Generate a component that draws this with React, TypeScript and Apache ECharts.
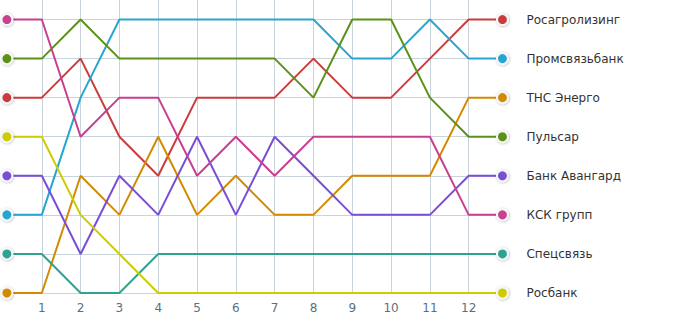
import React, { useEffect, useRef } from "react";
import * as echarts from "echarts";

const names = [
  "Росагролизинг",
  "Промсвязьбанк",
  "ТНС Энерго",
  "Пульсар",
  "Банк Авангард",
  "КСК групп",
  "Спецсвязь",
  "Росбанк",
];

const colors = ["#cc3b3b", "#28a5d0", "#d38a00", "#5b9119", "#7a4dd6", "#c93f8f", "#2fa38f", "#cccc00"];

const periods = [1, 2, 3, 4, 5, 6, 7, 8, 9, 10, 11, 12];
const startX = 0.1;
const endX = 12.87;
const ranks = [1, 2, 3, 4, 5, 6, 7, 8];

const rosagro = [3, 2, 4, 5, 3, 3, 3, 2, 3, 3, 2, 1];
const promsvyaz = [6, 3, 1, 1, 1, 1, 1, 1, 2, 2, 1, 2];
const tns = [8, 5, 6, 4, 6, 5, 6, 6, 5, 5, 5, 3];
const pulsar = [2, 1, 2, 2, 2, 2, 2, 3, 1, 1, 3, 4];
const avangard = [5, 7, 5, 6, 4, 6, 4, 5, 6, 6, 6, 5];
const ksk = [1, 4, 3, 3, 5, 4, 5, 4, 4, 4, 4, 6];
const specsvyaz = [7, 8, 8, 7, 7, 7, 7, 7, 7, 7, 7, 7];
const rosbank = [4, 6, 7, 8, 8, 8, 8, 8, 8, 8, 8, 8];

const seriesRanks = [rosagro, promsvyaz, tns, pulsar, avangard, ksk, specsvyaz, rosbank];

const FONT = "DejaVu Sans";

export default function App() {
  const ref = useRef<HTMLDivElement>(null);
  useEffect(() => {
    document.body.style.margin = "0";
    const chart = echarts.init(ref.current!, null, { renderer: "svg" });
    const series: any[] = seriesRanks.map((r, i) => {
      const data = [[startX, r[0]], ...periods.map((p, j) => [p, r[j]]), [endX, r[r.length - 1]]];
      const last = data.length - 1;
      return {
        type: "line",
        name: names[i],
        color: colors[i],
        data,
        z: 3,
        symbol: "circle",
        symbolSize: (_v: any, p: any) => (p.dataIndex === 0 || p.dataIndex === last ? 11 : 0),
        showSymbol: true,
        showAllSymbol: true,
        lineStyle: { width: 2, color: colors[i] },
        itemStyle: {
          color: colors[i],
          borderColor: "#f4f6f8",
          borderWidth: 2,
          shadowColor: "rgba(0,0,0,0.3)",
          shadowBlur: 2,
          shadowOffsetX: 0.5,
          shadowOffsetY: 0.5,
        },
        emphasis: { disabled: true },
        endLabel: {
          show: true,
          formatter: "{a}",
          distance: 24,
          color: "#333",
          fontSize: 12,
          fontFamily: FONT,
        },
      };
    });
    series.push({
      type: "line",
      name: "grid",
      data: [],
      silent: true,
      z: 0,
      markLine: {
        silent: true,
        z: 0,
        symbol: "none",
        label: { show: false },
        lineStyle: { color: "#c9d3db", width: 1, type: "solid" },
        emphasis: { disabled: true },
        data: ranks.map((r) => ({ yAxis: r })),
      },
    });
    chart.setOption({
      animation: false,
      grid: { left: 0.5, right: 173.5, top: 0, bottom: 29 },
      xAxis: {
        type: "value",
        min: 0,
        max: 13,
        interval: 1,
        axisLine: { show: false },
        axisTick: { show: false },
        axisLabel: {
          color: "#5b6f80",
          fontSize: 12,
          fontFamily: FONT,
          margin: 9,
          formatter: (v: number) => (v >= 1 && v <= 12 ? String(v) : ""),
        },
        splitLine: {
          show: true,
          showMinLine: false,
          showMaxLine: false,
          lineStyle: { color: "#c9d3db", width: 1 },
        },
      },
      yAxis: {
        type: "value",
        inverse: true,
        min: 0.5,
        max: 8,
        axisLine: { show: false },
        axisTick: { show: false },
        axisLabel: { show: false },
        splitLine: { show: false },
      },
      series,
    });
    return () => chart.dispose();
  }, []);
  return <div ref={ref} style={{ width: 681, height: 322 }} />;
}
